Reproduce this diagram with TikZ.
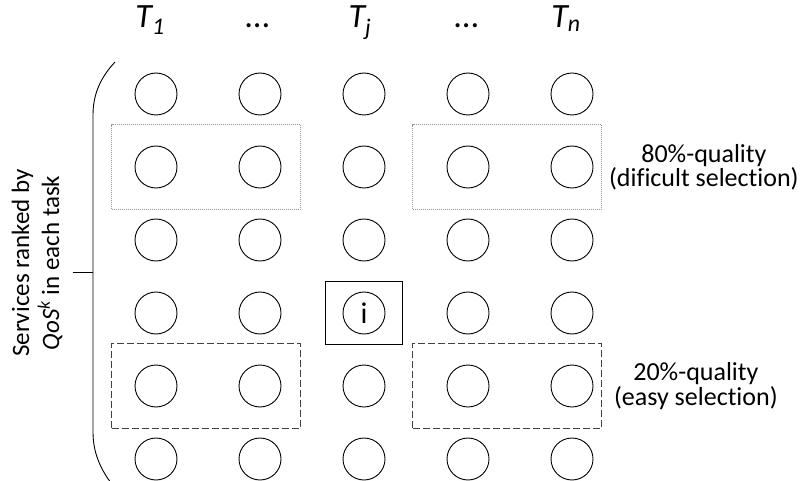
\documentclass[tikz,border=0pt]{standalone}
\usepackage{fontspec}
\setmainfont{Carlito}[Ligatures=NoCommon]
\usetikzlibrary{fit,positioning}

\tikzset{
  svc/.style={circle,draw,minimum size=42pt,inner sep=0pt,line width=0.9pt,
    font=\fontsize{30}{30}\selectfont},
  hardbox/.style={draw=black!40,dash pattern=on 1pt off 1pt,line width=0.9pt,
    inner xsep=21pt,inner ysep=21pt},
  easybox/.style={draw=black!75,dash pattern=on 7pt off 3pt,line width=0.9pt,
    inner xsep=21pt,inner ysep=21pt},
  selbox/.style={draw,line width=1.6pt,inner xsep=17pt,inner ysep=10pt},
  task/.style={anchor=base,font=\fontsize{34}{40}\selectfont\itshape},
  note/.style={align=center,inner sep=0pt,font=\fontsize{26}{23}\selectfont}
}

\begin{document}
\begin{tikzpicture}[x=1pt,y=-1pt]
  \useasboundingbox (0,0) rectangle (803,481);

  % tasks
  \node[task] (t1)    at (150,28) {T\textsubscript{1}};
  \node[task] (dots1) at (258,28) {...};
  \node[task] (tj)    at (360,28) {T\textsubscript{j}};
  \node[task] (dots2) at (467,28) {...};
  \node[task] (tn)    at (566,28) {T\textsubscript{n}};

  % services, one column per task
  \foreach \r in {1,...,6}
    \foreach \c in {1,...,5}
      \node[svc] (s\r\c) at ({156+104*(\c-1)},{94+73*(\r-1)}) {\ifnum\r\c=43 i\fi};

  \node[hardbox,fit=(s21)(s22),xshift=-2pt] (hardL) {};
  \node[hardbox,fit=(s24)(s25),xshift=-13pt] (hardR) {};
  \node[easybox,fit=(s51)(s52),xshift=-2pt] (easyL) {};
  \node[easybox,fit=(s54)(s55),xshift=-13pt] (easyR) {};
  \node[selbox,fit=(s43)] (sel) {};

  \node[note,right=7pt of hardR] (hard) {80\%-quality\\(dificult selection)};
  \node[note,right=12pt of easyR] (easy) {20\%-quality\\(easy selection)};

  % bracket
  \coordinate (brtop) at (115,62);
  \coordinate (brbot) at (115,488);
  \coordinate (brmid) at (93,272);
  \coordinate (tick) at (73,272);
  \draw[line width=0.9pt] (brtop) .. controls (100,78) and (93,95) .. (93,115)
    -- (93,432) .. controls (93,452) and (100,470) .. (brbot);
  \draw[line width=0.9pt] (brmid) -- (tick);
  \node[note,rotate=90,font=\fontsize{25}{30}\selectfont] (rank) at (37,263)
    {Services ranked by\\\textit{QoS}\textsuperscript{\textit{k}} in each task};
\end{tikzpicture}
\end{document}
